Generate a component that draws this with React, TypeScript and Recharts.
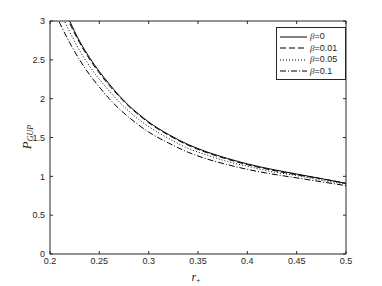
import { Line, LineChart, XAxis, YAxis } from 'recharts'

const rValues = [0.2, 0.21, 0.22, 0.23, 0.24, 0.25, 0.26, 0.27, 0.28, 0.29, 0.3, 0.32, 0.34, 0.36, 0.38, 0.4, 0.425, 0.45, 0.475, 0.5]
const pBeta0 = [3.65, 3.3, 3.0, 2.74, 2.53, 2.35, 2.19, 2.04, 1.91, 1.8, 1.7, 1.54, 1.41, 1.31, 1.23, 1.16, 1.09, 1.03, 0.97, 0.91]
const pBeta001 = [3.61, 3.26, 2.97, 2.72, 2.51, 2.33, 2.17, 2.03, 1.9, 1.79, 1.69, 1.53, 1.4, 1.3, 1.22, 1.15, 1.08, 1.02, 0.97, 0.91]
const pBeta005 = [3.45, 3.13, 2.86, 2.62, 2.42, 2.25, 2.1, 1.96, 1.84, 1.73, 1.64, 1.49, 1.36, 1.27, 1.19, 1.13, 1.06, 1.01, 0.95, 0.9]
const pBeta01 = [3.25, 2.97, 2.72, 2.5, 2.31, 2.15, 2.0, 1.87, 1.76, 1.66, 1.57, 1.43, 1.31, 1.22, 1.15, 1.09, 1.03, 0.98, 0.93, 0.88]

const xTicks = [0.2, 0.25, 0.3, 0.35, 0.4, 0.45, 0.5]
const yTicks = [0, 0.5, 1, 1.5, 2, 2.5, 3]

const series = [
  { key: 'b0', label: '=0', dash: undefined },
  { key: 'b001', label: '=0.01', dash: '6 3' },
  { key: 'b005', label: '=0.05', dash: '1 2' },
  { key: 'b01', label: '=0.1', dash: '6 2 1 2' },
]

const data = rValues.map((r, i) => ({
  r,
  b0: pBeta0[i],
  b001: pBeta001[i],
  b005: pBeta005[i],
  b01: pBeta01[i],
}))

const axisColor = '#262626'
const font = '"Liberation Sans", Arial, sans-serif'
const serif = '"Liberation Serif", "DejaVu Serif", serif'

// nothing drawn for label text on the mirror axes, only the tick lines
const NoTick = () => <g />

export default function App() {
  return (
    <div style={{ position: 'absolute', left: 0, top: 0, width: 382, height: 286, background: '#fff' }}>
      <LineChart width={382} height={286} data={data} margin={{ top: 20, right: 35, bottom: 0, left: 0 }}>
        <XAxis
          xAxisId='bottom'
          dataKey='r'
          type='number'
          domain={[0.2, 0.5]}
          ticks={xTicks}
          tickFormatter={(v) => `${v}`}
          stroke={axisColor}
          tickSize={-3}
          tickMargin={7}
          height={32}
          tick={{ fontSize: 9, fill: axisColor, fontFamily: font }}
          allowDataOverflow
        />
        <XAxis
          xAxisId='top'
          orientation='top'
          dataKey='r'
          type='number'
          domain={[0.2, 0.5]}
          ticks={xTicks}
          stroke={axisColor}
          tickSize={-3}
          tick={NoTick}
          height={1}
          allowDataOverflow
        />
        <YAxis
          yAxisId='left'
          type='number'
          domain={[0, 3]}
          ticks={yTicks}
          stroke={axisColor}
          tickSize={-3}
          tickMargin={8}
          width={50}
          tick={{ fontSize: 9, fill: axisColor, fontFamily: font }}
          allowDataOverflow
        />
        <YAxis
          yAxisId='right'
          orientation='right'
          type='number'
          domain={[0, 3]}
          ticks={yTicks}
          stroke={axisColor}
          tickSize={-3}
          tick={NoTick}
          width={1}
          allowDataOverflow
        />
        {series.map((s) => (
          <Line
            key={s.key}
            xAxisId='bottom'
            yAxisId='left'
            dataKey={s.key}
            type='monotone'
            stroke='#000'
            strokeWidth={1}
            strokeDasharray={s.dash}
            dot={false}
            isAnimationActive={false}
          />
        ))}
      </LineChart>

      {/* axis titles */}
      <svg width={382} height={286} style={{ position: 'absolute', left: 0, top: 0, pointerEvents: 'none' }}>
        <text x={196} y={281} textAnchor='middle' fontFamily={serif} fontSize={12} fill={axisColor}>
          <tspan fontStyle='italic'>r</tspan>
          <tspan fontSize={8} dy={2}>+</tspan>
        </text>
        <text
          x={31}
          y={137}
          transform='rotate(-90 31 137)'
          textAnchor='middle'
          fontFamily={serif}
          fontSize={13}
          fill={axisColor}
        >
          <tspan fontStyle='italic'>P</tspan>
          <tspan fontStyle='italic' fontSize={8} dy={2}>GUP</tspan>
        </text>
      </svg>

      {/* legend */}
      <div
        style={{
          position: 'absolute',
          left: 276,
          top: 27,
          width: 65,
          border: `1px solid ${axisColor}`,
          background: '#fff',
          padding: '3px 0 2px 3px',
          fontFamily: font,
          fontSize: 9,
          color: axisColor,
          lineHeight: 1,
        }}
      >
        {series.map((s) => (
          <div key={s.key} style={{ display: 'flex', alignItems: 'center', height: 11.5 }}>
            <svg width={27} height={6} style={{ marginRight: 3 }}>
              <line x1={0} y1={3} x2={27} y2={3} stroke='#000' strokeWidth={1} strokeDasharray={s.dash} />
            </svg>
            <span style={{ fontStyle: 'italic', fontFamily: serif }}>β</span>
            <span>{s.label}</span>
          </div>
        ))}
      </div>
    </div>
  )
}
